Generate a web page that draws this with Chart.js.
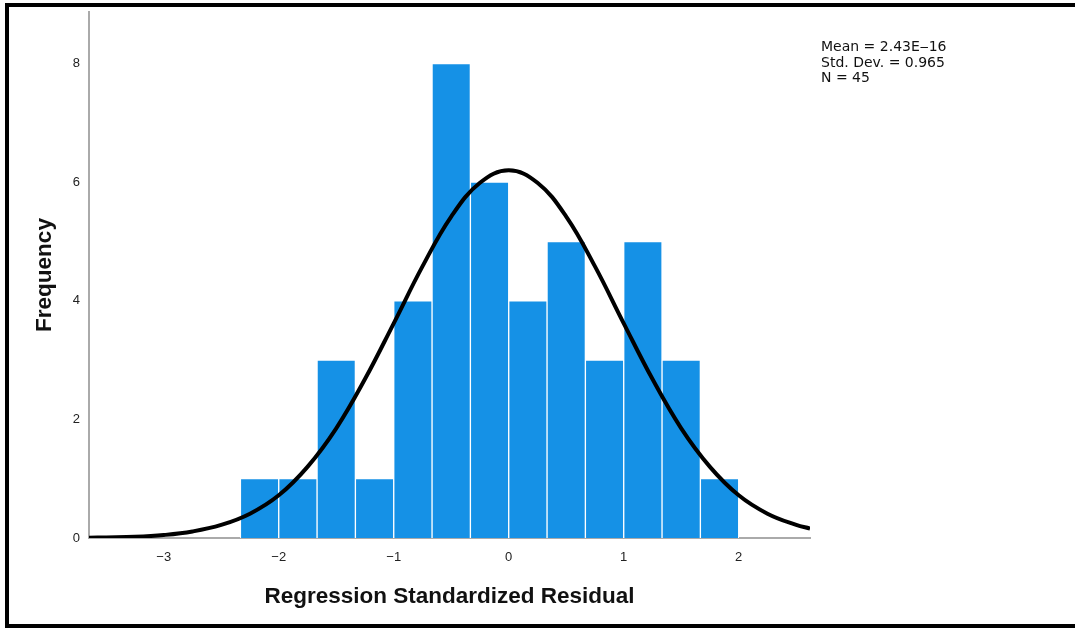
<!DOCTYPE html>
<html>
<head>
<meta charset="utf-8">
<script src="https://cdn.jsdelivr.net/npm/chart.js@4"></script>
<style>
  html, body { margin: 0; padding: 0; background: #fff; overflow: hidden; }
  canvas { display: block; }
</style>
</head>
<body>
<canvas id="histo" width="1075" height="628"></canvas>
<script>
// histogram bins (centres), width 1/3
const binCentres = [-2.1667, -1.8333, -1.5, -1.1667, -0.8333, -0.5, -0.1667, 0.1667, 0.5, 0.8333, 1.1667, 1.5, 1.8333];
const frequencies = [1, 1, 3, 1, 4, 8, 6, 4, 5, 3, 5, 3, 1];

// fitted normal curve
const curveX = [-3.65, -3.5, -3.25, -3, -2.75, -2.5, -2.25, -2, -1.75, -1.5, -1.25, -1, -0.75, -0.5, -0.25, 0,
                0.25, 0.5, 0.75, 1, 1.25, 1.5, 1.75, 2, 2.25, 2.5, 2.62];
const curveY = [0.005, 0.01, 0.02, 0.05, 0.11, 0.22, 0.41, 0.72, 1.2, 1.85, 2.68, 3.62, 4.58, 5.42, 5.99, 6.2,
                5.99, 5.42, 4.58, 3.62, 2.68, 1.85, 1.2, 0.72, 0.41, 0.22, 0.16];

const xTicks = [-3, -2, -1, 0, 1, 2];
const yTicks = [0, 2, 4, 6, 8];
const statLines = ['Mean = 2.43E\u201216', 'Std. Dev. = 0.965', 'N = 45'];

const fmt = v => v < 0 ? '\u2212' + Math.abs(v) : String(v);

// black frame (open on the right) and the stats text
const decor = {
    id: 'decor',
    afterDraw(chart) {
        const ctx = chart.ctx;
        const w = chart.width, h = chart.height;
        ctx.save();
        ctx.fillStyle = '#000';
        ctx.fillRect(5, 3, w - 5, 4);
        ctx.fillRect(5, 3, 4, h - 3);
        ctx.fillRect(5, h - 4, w - 5, 4);

        ctx.fillStyle = '#111';
        ctx.font = '14px "DejaVu Sans"';
        ctx.textBaseline = 'alphabetic';
        statLines.forEach((t, i) => ctx.fillText(t, 821, 51 + i * 15.5));
        ctx.restore();
    }
};

new Chart(document.getElementById('histo'), {
    data: {
        datasets: [{
                type: 'line',
                data: curveX.map((x, i) => ({ x: x, y: curveY[i] })),
                borderColor: '#000',
                borderWidth: 4,
                pointRadius: 0,
                tension: 0.4,
                fill: false,
                order: 0
            },
            {
                type: 'bar',
                data: binCentres.map((x, i) => ({ x: x, y: frequencies[i] })),
                backgroundColor: '#1591E6',
                borderColor: '#ffffff',
                borderWidth: 1,
                barPercentage: 1,
                categoryPercentage: 1,
                order: 1
            }
        ]
    },
    options: {
        responsive: false,
        animation: false,
        layout: { padding: { left: 0, right: 265, top: 12, bottom: 0 } },
        plugins: { legend: { display: false }, tooltip: { enabled: false } },
        scales: {
            x: {
                type: 'linear',
                offset: false,
                min: -3.65,
                max: 2.62,
                afterBuildTicks: s => { s.ticks = xTicks.map(v => ({ value: v })); },
                afterFit: s => { s.height = 90; s.paddingLeft = 0; s.paddingRight = 0; },
                grid: { display: false, drawTicks: false },
                border: { display: true, color: '#aaa', width: 2 },
                ticks: {
                    padding: 12,
                    color: '#222',
                    font: { family: 'Liberation Sans', size: 13 },
                    callback: fmt
                },
                title: {
                    display: true,
                    text: 'Regression Standardized Residual',
                    color: '#111',
                    font: { family: 'Liberation Sans', size: 22.5, weight: 'bold' },
                    padding: { top: 0, bottom: 18 }
                }
            },
            y: {
                min: 0,
                max: 8.87,
                afterBuildTicks: s => { s.ticks = yTicks.map(v => ({ value: v })); },
                afterFit: s => { s.width = 89; s.paddingTop = 0; s.paddingBottom = 0; },
                grid: { display: false, drawTicks: false },
                border: { display: true, color: '#aaa', width: 2 },
                ticks: {
                    padding: 9,
                    color: '#222',
                    font: { family: 'Liberation Sans', size: 13 },
                    callback: fmt
                },
                title: {
                    display: true,
                    text: 'Frequency',
                    color: '#111',
                    font: { family: 'Liberation Sans', size: 22.5, weight: 'bold' },
                    padding: { top: 31, bottom: 0 }
                }
            }
        }
    },
    plugins: [decor]
});
</script>
</body>
</html>
